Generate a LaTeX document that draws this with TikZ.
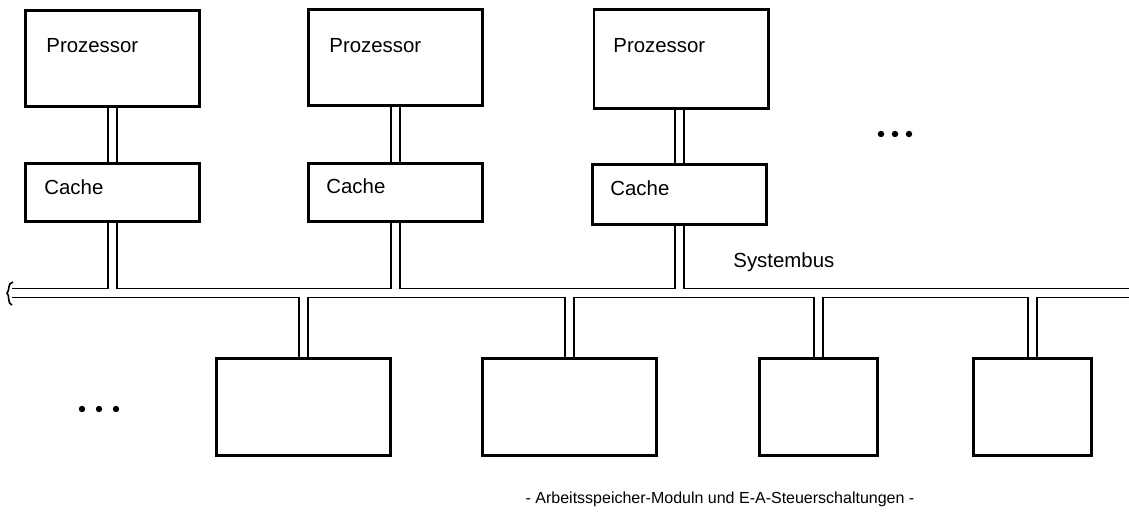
\documentclass[tikz,border=0pt]{standalone}
\usepackage{fontspec}
\setmainfont{Liberation Sans}
\usetikzlibrary{backgrounds}
\begin{document}
\begin{tikzpicture}[x=0.5pt,y=-0.5pt,
  box/.style={draw, line width=1.3pt, fill=white, inner sep=0pt, rectangle},
  membox/.style={box, line width=1.5pt, minimum height=48.5pt},
  procbox/.style={box, minimum width=87.2pt},
  lbl/.style={inner sep=0pt, anchor=base west, font=\fontsize{10.2}{12}\selectfont},
  caplbl/.style={inner sep=0pt, anchor=base, font=\fontsize{8}{10}\selectfont},
  wireo/.style={line width=5.3pt, line cap=butt},
  wirei/.style={line width=3.7pt, white, line cap=butt},
  dotmark/.style={circle, fill, inner sep=0pt, minimum size=3.2pt}
]
\useasboundingbox (0,0) rectangle (1129,512);

% processors
\node[procbox, minimum height=48.2pt] (p1) at (112.5,58.5) {};
\node[procbox, minimum height=48.2pt] (p2) at (395.5,57.5) {};
\node[procbox, minimum height=49.7pt] (p3) at (681,59) {};
% caches
\node[procbox, minimum height=29.2pt] (c1) at (112.5,192.5) {};
\node[procbox, minimum height=29.2pt] (c2) at (395.5,192.5) {};
\node[procbox, minimum height=30.2pt] (c3) at (679.5,194.5) {};
% memory / IO modules
\node[membox, minimum width=87pt] (m1) at (303.5,407) {};
\node[membox, minimum width=87pt] (m2) at (569.5,407) {};
\node[membox, minimum width=59pt] (m3) at (818.5,407) {};
\node[membox, minimum width=59pt] (m4) at (1032.5,407) {};

% bus end points
\coordinate (busL) at (12,293);
\coordinate (busR) at (1129,293);

\begin{pgfonlayer}{background}
  \foreach \s in {wireo, wirei}{
    \draw[\s] (busL) -- (busR);
    \foreach \i in {1,2,3}{
      \draw[\s] (c\i.north |- p\i.south) -- (c\i.north);
      \draw[\s] (c\i.south) -- (c\i.south |- busL);
    }
    \foreach \i in {1,2,3,4}{
      \draw[\s] (m\i.north) -- (m\i.north |- busL);
    }
  }
\end{pgfonlayer}

% break mark at the left end of the bus
\draw[line width=0.8pt] (13,282) .. controls (7,283) and (10,291) .. (7,293)
   .. controls (10,295) and (7,304) .. (12,305);

% labels
\node[lbl] (t1) at (46,53) {Prozessor};
\node[lbl] (t2) at (329,53) {Prozessor};
\node[lbl] (t3) at (613,53) {Prozessor};
\node[lbl] (k1) at (44,195) {Cache};
\node[lbl] (k2) at (326,194) {Cache};
\node[lbl] (k3) at (610,196) {Cache};
\node[lbl] (sb) at (733,268) {Systembus};
\node[caplbl] (cap) at (720,503) {- Arbeitsspeicher-Moduln und E-A-Steuerschaltungen -};

% ellipses
\node[dotmark] (d1) at (881,134) {};
\node[dotmark] (d2) at (895,134) {};
\node[dotmark] (d3) at (909,134) {};
\node[dotmark] (e1) at (82,409) {};
\node[dotmark] (e2) at (99,409) {};
\node[dotmark] (e3) at (116,409) {};
\end{tikzpicture}
\end{document}
